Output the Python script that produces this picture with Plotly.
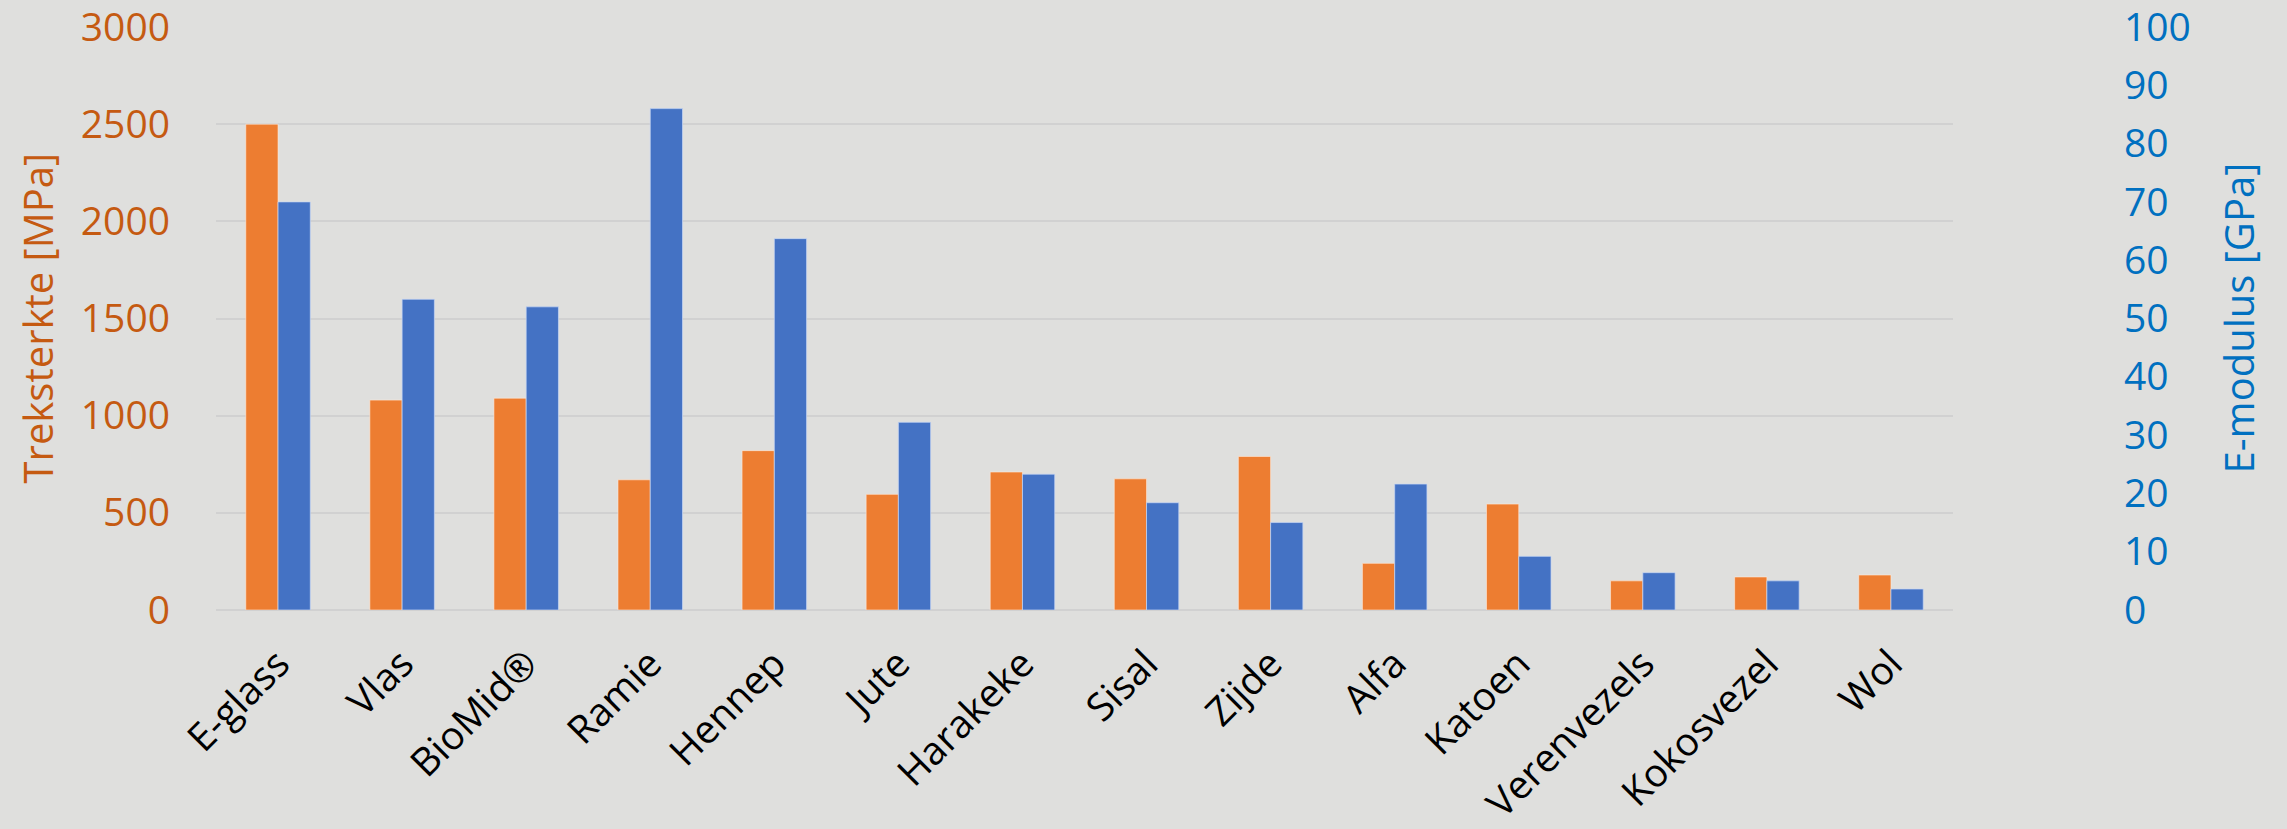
import plotly.graph_objects as go

# Fibre properties: tensile strength (MPa, left axis) and E-modulus (GPa, right axis)
categories = ["E-glass", "Vlas", "BioMid®", "Ramie", "Hennep", "Jute", "Harakeke",
              "Sisal", "Zijde", "Alfa", "Katoen", "Verenvezels", "Kokosvezel", "Wol"]
treksterkte = [2500, 1080, 1090, 670, 820, 595, 710, 675, 790, 240, 545, 150, 170, 180]
e_modulus = [70, 53.3, 52, 86, 63.7, 32.2, 23.3, 18.4, 15, 21.6, 9.2, 6.4, 5, 3.6]

left_ticks = [0, 500, 1000, 1500, 2000, 2500, 3000]
right_ticks = [0, 10, 20, 30, 40, 50, 60, 70, 80, 90, 100]

ORANGE = "#ED7D31"
BLUE = "#4472C4"
ORANGE_TEXT = "#C55A11"
BLUE_TEXT = "#0070C0"
BG = "#dfdfdd"
GRID = "#d1d1d1"
FONT = "Open Sans, sans-serif"

W, H = 2287, 829
ML, MR, MT, MB = 216, 334, 27, 219
bar_w = 0.26

fig = go.Figure()
fig.add_trace(go.Bar(
    x=categories, y=treksterkte, name="Treksterkte [MPa]",
    marker=dict(color=ORANGE, line=dict(color="rgba(255,235,220,0.6)", width=1)),
    width=bar_w, offset=-bar_w, yaxis="y",
))
fig.add_trace(go.Bar(
    x=categories, y=e_modulus, name="E-modulus [GPa]",
    marker=dict(color=BLUE, line=dict(color="rgba(200,215,245,0.7)", width=1)),
    width=bar_w, offset=0, yaxis="y2",
))

tick_font = dict(family=FONT, size=39)

fig.update_layout(
    width=W, height=H,
    margin=dict(l=ML, r=MR, t=MT, b=MB, pad=0, autoexpand=False),
    paper_bgcolor=BG, plot_bgcolor=BG,
    barmode="overlay",
    showlegend=False,
    xaxis=dict(
        type="category", range=[-0.5, len(categories) - 0.5],
        tickangle=-45, showgrid=False, showline=False, ticks="",
        tickfont=dict(family=FONT, size=39, color="black"),
        ticklabelstandoff=22, automargin=False, ticklabeloverflow="allow",
    ),
    yaxis=dict(
        range=[0, 3000], tickvals=left_ticks, ticktext=[str(v) for v in left_ticks],
        showgrid=True, gridcolor=GRID, gridwidth=2,
        zeroline=True, zerolinecolor=GRID, zerolinewidth=2,
        showline=False, ticks="",
        tickfont=dict(tick_font, color=ORANGE_TEXT),
        ticklabelstandoff=45, automargin=False, ticklabeloverflow="allow",
    ),
    yaxis2=dict(
        range=[0, 100], tickvals=right_ticks, ticktext=[str(v) for v in right_ticks],
        overlaying="y", side="right", showgrid=False, zeroline=False,
        showline=False, ticks="",
        tickfont=dict(tick_font, color=BLUE_TEXT),
        ticklabelstandoff=170, automargin=False, ticklabeloverflow="allow",
    ),
)

plot_w = W - ML - MR
title_font = dict(family=FONT, size=40)
fig.add_annotation(
    text="Treksterkte [MPa]", textangle=-90, showarrow=False,
    xref="paper", yref="paper", x=(37 - ML) / plot_w, y=0.5,
    xanchor="center", yanchor="middle",
    font=dict(title_font, color=ORANGE_TEXT),
)
fig.add_annotation(
    text="E-modulus [GPa]", textangle=-90, showarrow=False,
    xref="paper", yref="paper", x=(2238 - ML) / plot_w, y=0.5,
    xanchor="center", yanchor="middle",
    font=dict(title_font, color=BLUE_TEXT),
)

fig.write_html("out.html")
